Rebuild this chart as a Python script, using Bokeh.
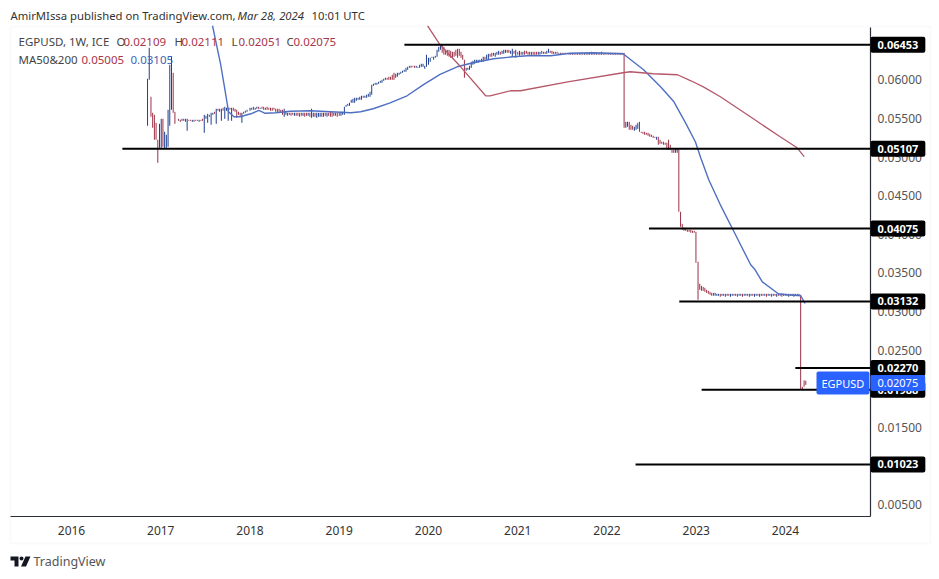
from bokeh.plotting import figure
from bokeh.embed import file_html
from bokeh.resources import INLINE
from bokeh.models import (ColumnDataSource, Label, LinearAxis, FixedTicker, Range1d,
                          BoxAnnotation, PolyAnnotation, NumeralTickFormatter)

# ---- weekly bars, by calendar block (start year, highs, lows, direction) ----
seg_a_start = 2016.852
seg_a_high = [.06013,.06414,.0578,.05573,.05547,.05443,.05224,.0543,.05495,.05495,.05327,.05288,.05612,.06194,.06298,.0609,.05586]
seg_a_low = [.05405,.06,.05521,.05379,.05224,.05224,.04926,.0512,.0512,.05133,.05107,.0512,.05133,.05405,.05612,.05573,.0543]
seg_a_dir = "UUDDDDDUUDUUUUUDD"

seg_b_start = 2017.2
seg_b_high = [.05495,.05482,.05495,.05495,.05495,.05495,.05482,.05482,.05482,.05482,.05482,.05482,.05482,.05482,.05495,
              .05547,.05534,.0556,.05547,.05573,.05573,.05586,.05625,.05625,.05625,.05625,.05638,.05651,.05638,.05638,
              .05638,.05638,.05638,.05625,.05612,.05586,.05573,.05573,.05586,.05599,.05612]
seg_b_low = [.05469,.05456,.05469,.05469,.05456,.0534,.05469,.05469,.05456,.05456,.05469,.05469,.05456,.05469,.05469,
             .05314,.05495,.05443,.05521,.05418,.05547,.0556,.0543,.05599,.05586,.05469,.05599,.05495,.05599,.05469,
             .05612,.05469,.05599,.05586,.05508,.05547,.05534,.05443,.0556,.05573,.05586]
seg_b_dir = "DDUDUUDDUDDDUDDUUUDUUDUDUUDUUUDUDDDDDUDUU"[:41]

seg_c_start = 2018.0
seg_c_high = [.05638,.05638,.05651,.05638,.05651,.05651,.05638,.05651,.05651,.05638,.05651,.05638,
              .05638,.05638,.05638,.05625,.05625,.05625,.05612,.05612,
              .05625,.05586,.05573,.05573,.05573,.05573,.05573,.05573,.05573,.05573,.05573,.05573,.05573,.05573,.05573,.05573,
              .05625,.05573,.05573,.05573,.05573,.05573,.05573,.05573,.05573,.05573,.05573,.05586,.05586,.05573,.05573,.05573]
seg_c_low = [.05599,.05612,.05612,.05612,.05625,.05625,.05625,.05625,.05612,.05612,.05612,.05612,
             .05599,.05599,.05612,.05586,.05573,.05586,.05573,.05547,
             .05521,.05547,.05534,.05547,.05534,.05547,.05534,.05534,.05534,.05521,.05534,.05534,.05521,.05534,.05534,.05521,
             .05508,.05521,.05521,.05508,.05521,.05521,.05521,.05521,.05534,.05521,.05534,.05521,.05521,.05534,.05534,.05521]
seg_c_dir = "UUDUUDUDDUDD" + "DDDDDDDD" + "UUUDDDUDDDDUDDUD" + "UUDUUUDUDUDDDUDD"

seg_d_start = 2019.0
seg_d_high = [.05573,.05586,.05586,.05651,.05676,.05689,.05702,.05741,.05754,.05767,.05767,.05767,.0578,.05793,.05793,.05793,
              .05806,.05819,.05845,.05935,.05948,.05961,.05961,.05974,.05987,.06,.06013,.06026,.06026,.06039,.06039,.06065,
              .06091,.06078,.06091,.06091,.06104,.06117,.06129,.06155,.06168,.06181,.06181,.06181,.06181,.06181,.06168,.06194,
              .06207,.06207,.06181,.06324]
seg_d_low = [.05534,.05534,.05547,.05547,.05651,.05663,.05663,.05702,.05702,.05702,.05728,.05741,.05741,.05741,.05767,.05767,
             .05767,.0578,.0578,.05806,.05922,.05935,.05935,.05948,.05961,.05961,.05987,.06,.06,.06,.06,.06,
             .06,.06026,.06039,.06065,.06078,.06091,.06104,.06104,.06129,.06155,.06155,.06168,.06155,.06155,.06155,.06155,
             .06168,.06168,.06142,.06168]
seg_d_dir = "DUUUUUUUUUUUUUDUUUUUUUUUUUUUDDDDDUUUUUUUUDUDDUUUUUUU"

seg_e_start = 2020.0
seg_e_high = [.06285,.06285,.06298,.06298,.06311,.06388,.06427,.0644,.06453,.06427,.06388,.06388,.06388,.06375,.06362,.06362,
              .06388,.06401,.06401,.06362,.06324,.06259,.06155,.06155,.06181,.06233,.06246,.06259,.06259,.06259,.06259,.06272,
              .06298,.06298,.06324,.06336,.06336,.06349,.06349,.06349,.06362,.06375,.06362,.06375,.06388,.06388,.06388,.06388,
              .06375,.06401,.06375,.06388]
seg_e_low = [.06194,.06233,.06285,.06259,.06285,.06298,.06362,.06388,.06349,.06324,.06324,.06311,.06298,.06285,.06285,.06298,
             .06311,.06285,.06311,.06285,.06259,.06026,.06117,.06129,.06129,.06155,.06194,.06207,.0622,.0622,.06233,.06233,
             .06233,.06259,.06259,.06259,.06298,.06298,.06311,.06298,.06324,.06324,.06324,.06336,.06336,.06349,.06349,.06349,
             .06336,.06298,.06336,.06285]
seg_e_dir = "UUUUUUUUDDDDDDDDDDDDDDUUUUUUUUUUUDUUDDDUUUDUUUDDUUDU"

seg_f_start = 2021.0
seg_f_high = [.06362,.06375,.06362,.06362,.06375,.06375,.06362,.06362,.06362,.06362,.06362,.06362,.06362,.06362,.06375,.06362,
              .06362,.06375,.06401,.06375,.06375,.06362,.06362,.06362,.06349,.06349,.06349,.06349,.06349,.06349,.06349,.06349,
              .06349,.06349,.06349,.06349,.06349,.06349,.06349,.06349,.06349,.06349,.06349,.06362,.06349,.06349,.06349,.06349,
              .06349,.06362,.06349,.06349]
seg_f_low = [.06324,.06311,.06324,.06324,.06324,.06336,.06324,.06324,.06311,.06324,.06311,.06324,.06324,.06324,.06336,.06336,
             .06336,.06336,.06349,.06349,.06336,.06336,.06336,.06336,.06336,.06324,.06336,.06336,.06336,.06336,.06324,.06324,
             .06324,.06324,.06324,.06324,.06324,.06324,.06324,.06324,.06324,.06324,.06324,.06324,.06324,.06324,.06324,.06324,
             .06324,.06324,.06324,.06324]
seg_f_dir = "DUDUDDDUDDDDUUDUDUUDDUDDUDUDUDDDUDDUDUDUDUDUUDUDUUDU"[:52]

seg_g_start = 2022.0
seg_g_high = [.06349,.06349,.06349,.06349,.06349,.06349,.06349,.06349,.06349,.06349,.06349,
              .05456,.05456,.05456,.05418,.05405,.05392,.05418,.05443,.05456,.05327,.05327,.05327,.05314,.05314,.05301,.05288,
              .05275,.05262,.05262,.05262,.05224,.05198,.05198,.05185,.05185,.05224,.05159,.05094,.05094,.05107,.05107,
              .05107,.04292,.04136,.04085,.04072,.04059,.04059,.04059,.04046,.04046,.04033]
seg_g_low = [.06324,.06324,.06324,.06324,.06324,.06324,.06324,.06324,.06324,.06324,.05379,
             .05379,.05392,.05353,.05353,.05353,.0534,.05353,.05366,.05327,.05314,.05301,.05288,.05288,.05275,.05262,.05262,
             .05249,.05249,.05224,.05159,.05172,.05172,.05159,.05159,.05107,.05094,.05094,.05055,.05055,.05055,.05055,
             .04292,.04098,.04059,.04046,.04046,.04033,.04033,.0402,.0402,.0402,.03632]
seg_g_dir = "DUDUDUDDUDD" + "UUDDDUUU" + "DDDDDDDDDD" + "U" + "DDDDDDDDDD" + "UU" + "DDDDDDDDDDD"

seg_h_start = 2023.02
seg_h_high = [.03645,.0336,.03334,.03321,.03308,.03282,.03269,.03256,.03243,.03243,.03243,.0323,
              .0323,.0323,.0323,.0323,.0323,.0323,.0323,.0323,.0323,.0323,.0323,.0323,.0323,.0323,.0323,.0323,
              .0323,.0323,.0323,.0323,.0323,.0323,.0323,.0323,.0323,.0323,.0323,.0323,.0323,.0323,.0323,.0323,
              .0323,.0323,.0323,.0323,.0323,.0323,.0323,.0323,.0323,.0323,.0323,.0323,.0323,.0323,.0323,.0323,
              .03218,.02027,.02111,.02105]
seg_h_low = [.03153,.03282,.03269,.03269,.03256,.03243,.0323,.03218,.03205,.03205,.03205,.03205,
             .03205,.03192,.03205,.03205,.03192,.03205,.03205,.03192,.03205,.03205,.03205,.03192,.03205,.03205,.03192,.03205,
             .03205,.03205,.03192,.03205,.03205,.03192,.03205,.03205,.03192,.03205,.03205,.03205,.03192,.03205,.03205,.03192,
             .03205,.03205,.03192,.03205,.03205,.03192,.03205,.03205,.03205,.03192,.03205,.03205,.03192,.03205,.03205,.03205,
             .01988,.01988,.02027,.02051]
seg_h_dir = "DDDDDDDDDDUU" + "UDUUDUDUUDUD" + "UUDUUDUUDUUD" + "UUDUDUUDUDUD" + "UDUDUUDUUDUU" + "DDDD"

# ---- moving averages ----
ma_fast_year = [2017.58,2017.67,2017.71,2017.76,2017.82,2017.89,2018.01,2018.10,2018.17,2018.29,2018.45,2018.68,2018.90,2019.13,
                2019.24,2019.38,2019.57,2019.76,2019.94,2020.13,2020.32,2020.50,2020.73,2020.95,2021.11,2021.37,2021.59,2021.85,
                2022.18,2022.41,2022.60,2022.75,2022.88,2022.99,2023.05,2023.14,2023.27,2023.44,2023.61,2023.66,2023.74,2023.92,
                2024.02,2024.17,2024.22]
ma_fast_value = [.06699,.06207,.05935,.05586,.05521,.05521,.0556,.05604,.05566,.05573,.05592,.05599,.05586,.05573,
                 .05586,.05625,.05702,.05793,.05935,.06071,.06168,.0622,.06272,.06298,.06311,.06311,.06343,.06349,
                 .06336,.06129,.05909,.05715,.05443,.05198,.04991,.04706,.04382,.03994,.03606,.03541,.03385,.03231,
                 .03218,.03205,.03105]
ma_slow_year = [2019.99,2020.13,2020.36,2020.64,2020.69,2020.92,2021.03,2021.56,2022.18,2022.26,2022.52,2022.79,2022.94,2023.08,
                2023.27,2023.64,2023.94,2024.13,2024.21]
ma_slow_value = [.06699,.06453,.06168,.05793,.05793,.05858,.05858,.05974,.06091,.06104,.06078,.06065,.05987,.05909,
                 .0578,.05495,.05262,.0512,.05005]

# ---- horizontal levels ----
level_value = [.06453,.05107,.04075,.03132,.0227,.01988,.01023]
level_start = [2019.73,2016.57,2022.47,2022.81,2024.11,2023.06,2022.32]
level_text = ["0.06453","0.05107","0.04075","0.03132","0.02270","0.01988","0.01023"]

year_ticks = [2016,2017,2018,2019,2020,2021,2022,2023,2024]
price_ticks = [.005,.01,.015,.02,.025,.03,.035,.04,.045,.05,.055,.06]
last_price = 0.02075

BLUE_BAR, RED_BAR = "#1f3f8f", "#9b3046"
WEEK = 7 / 365.25
FONT = "Noto Sans"
W, H = 935, 575
X_LEFT, X_RIGHT = 2015.3165, 2024.9524   # chart pane edges
Y_BOTTOM, Y_TOP = 0.00348, 0.06677

segments = [(seg_a_start, seg_a_high, seg_a_low, seg_a_dir), (seg_b_start, seg_b_high, seg_b_low, seg_b_dir),
            (seg_c_start, seg_c_high, seg_c_low, seg_c_dir), (seg_d_start, seg_d_high, seg_d_low, seg_d_dir),
            (seg_e_start, seg_e_high, seg_e_low, seg_e_dir), (seg_f_start, seg_f_high, seg_f_low, seg_f_dir),
            (seg_g_start, seg_g_high, seg_g_low, seg_g_dir), (seg_h_start, seg_h_high, seg_h_low, seg_h_dir)]
bx, bh, bl, bc = [], [], [], []
for start, hi, lo, d in segments:
    n = min(len(hi), len(lo), len(d))
    for i in range(n):
        bx.append(start + i * WEEK); bh.append(hi[i]); bl.append(lo[i])
        bc.append(BLUE_BAR if d[i] == "U" else RED_BAR)

p = figure(width=W, height=H, output_backend="svg", toolbar_location=None,
           x_range=Range1d(2015.2045, 2025.6807), y_range=Range1d(-0.00415, 0.07026),
           min_border=0, x_axis_location="below", y_axis_location=None, background_fill_color="white",
           border_fill_color="white", outline_line_color=None)
p.grid.visible = False

xa = p.xaxis[0]
xa.fixed_location = Y_BOTTOM
xa.bounds = (X_LEFT, X_RIGHT)
xa.ticker = FixedTicker(ticks=year_ticks)
xa.formatter = NumeralTickFormatter(format="0")
xa.major_tick_line_color = None; xa.minor_tick_line_color = None
xa.axis_line_color = "#2a2e39"; xa.axis_line_width = 1.2
xa.major_label_text_font = FONT; xa.major_label_text_font_size = "12px"; xa.major_label_text_color = "#333"
xa.major_label_standoff = 3

ya = LinearAxis(ticker=FixedTicker(ticks=price_ticks), formatter=NumeralTickFormatter(format="0.00000"),
                fixed_location=X_RIGHT, bounds=(Y_BOTTOM, Y_TOP))
ya.major_tick_line_color = None; ya.minor_tick_line_color = None
ya.axis_line_color = "#2a2e39"; ya.axis_line_width = 1.2
ya.major_label_text_font = FONT; ya.major_label_text_font_size = "12px"; ya.major_label_text_color = "#555"
ya.major_label_standoff = 1
p.add_layout(ya, "right")

p.segment("x", "h", "x", "l", color="c", line_width=1.0,
          source=ColumnDataSource(dict(x=bx, h=bh, l=bl, c=bc)))
p.line(ma_fast_year, ma_fast_value, line_color="#4f70c2", line_width=1.4)
p.line(ma_slow_year, ma_slow_value, line_color="#b5586a", line_width=1.3)
p.segment(level_start, level_value, [X_RIGHT] * len(level_value), level_value, line_color="black", line_width=2)


def sx(px):
    return px


def sy(py):
    return H - py


def text(px, py, s, color="#444", size=12, bold=False, italic=False, align="left", **kw):
    style = "bold" if bold else ("italic" if italic else "normal")
    p.add_layout(Label(x=sx(px), y=sy(py), x_units="screen", y_units="screen", text=s, text_color=color,
                       text_font=FONT, text_font_size=f"{size}px", text_font_style=style,
                       text_align=align, text_baseline="middle", **kw))


# outer frame
p.add_layout(BoxAnnotation(left=sx(10), right=sx(930), top=sy(26), bottom=sy(543), left_units="screen",
                           right_units="screen", top_units="screen", bottom_units="screen", fill_alpha=0,
                           line_color="#eef0f5", line_width=2, level="underlay"))

RED_TXT, BLUE_TXT = "#a8354a", "#3f63b5"
text(10, 15, "AmirMIssa published on TradingView.com,", color="#333", size=11.3)
text(237, 15, "Mar 28, 2024", color="#333", size=11.3, italic=True)
text(311, 15, "10:01 UTC", color="#333", size=11.3)
text(18, 41, "EGPUSD, 1W, ICE", color="#444", size=11.5)
for px, s, c in [(116, "O", "#444"), (123, "0.02109", RED_TXT), (174, "H", "#444"), (181, "0.02111", RED_TXT),
                 (231, "L", "#444"), (238, "0.02051", RED_TXT), (286, "C", "#444"), (293, "0.02075", RED_TXT)]:
    text(px, 41, s, color=c, size=11.5)
text(18, 59, "MA50&200", color="#444", size=11.5)
text(81, 59, "0.05005", color=RED_TXT, size=11.5)
text(130, 59, "0.03105", color=BLUE_TXT, size=11.5)


def tag(value, s, bg, px=870, size=11, style="bold", pad=7):
    p.add_layout(Label(x=sx(px), y=value, x_units="screen", y_units="data", text=s, text_color="white",
                       text_font=FONT, text_font_size=f"{size}px", text_font_style=style, text_align="left",
                       text_baseline="middle", background_fill_color=bg, padding=(pad, pad, 4, 4), border_radius=2))


for v, s in zip(level_value, level_text):
    tag(v, s, "black")
tag(last_price, "EGPUSD", "#2962ff", px=816, size=11, style="normal", pad=5)
tag(last_price, f"{last_price:.5f}", "#2962ff", size=11, style="normal", pad=7)

# logo
for xs, ys in [([10, 18, 18, 14, 14, 10], [556, 556, 566, 566, 560, 560]),
               ([19.5, 21, 22.5, 23, 22.5, 21, 19.5, 19], [556.5, 556, 556.5, 558, 559.5, 560, 559.5, 558]),
               ([25, 30, 25.5, 20.5], [556, 556, 566, 566])]:
    p.add_layout(PolyAnnotation(xs=[sx(a) for a in xs], ys=[sy(b) for b in ys], xs_units="screen", ys_units="screen",
                                fill_color="#131722", fill_alpha=1, line_color=None))
text(33, 561, "TradingView", color="#555", size=12.5)

open("out.html", "w").write(file_html(p, INLINE))
